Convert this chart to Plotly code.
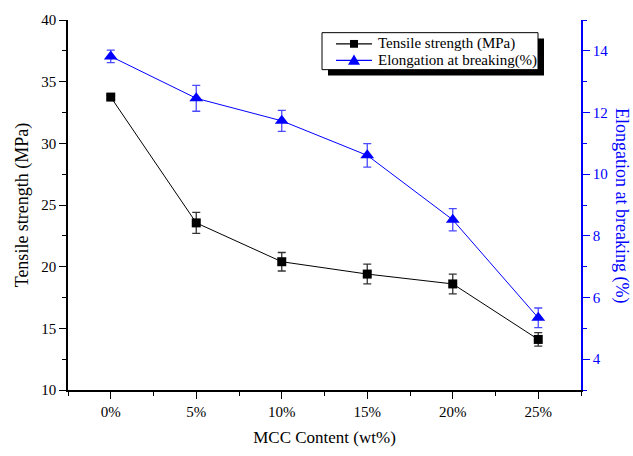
import plotly.graph_objects as go

mcc = [0, 5, 10, 15, 20, 25]
mcc_labels = ["0%", "5%", "10%", "15%", "20%", "25%"]
tensile = [33.75, 23.55, 20.4, 19.4, 18.6, 14.1]
tensile_err = [0.15, 0.85, 0.75, 0.8, 0.8, 0.55]
elong = [13.82, 12.46, 11.73, 10.61, 8.52, 5.34]
elong_err = [0.2, 0.42, 0.34, 0.38, 0.36, 0.32]
series_names = ["Tensile strength (MPa)", "Elongation at breaking(%)"]

FONT = "Liberation Serif"
BLUE = "#0000ff"

fig = go.Figure()
fig.add_trace(go.Scatter(
    x=mcc, y=tensile, name=series_names[0], mode="lines+markers",
    line=dict(color="black", width=1),
    marker=dict(symbol="square", size=9, color="black"),
    error_y=dict(type="data", array=tensile_err, color="#333333", thickness=1.3, width=4),
    yaxis="y", showlegend=False,
))
fig.add_trace(go.Scatter(
    x=mcc, y=elong, name=series_names[1], mode="lines+markers",
    line=dict(color=BLUE, width=1),
    marker=dict(symbol="triangle-up", size=12, color=BLUE),
    error_y=dict(type="data", array=elong_err, color="#4a4aff", thickness=1.3, width=4),
    yaxis="y2", showlegend=False,
))

L, R, T, B = 68, 581, 16, 396
def px(x):
    return (x - L) / (R - L)
def py(y):
    return (B - y) / (B - T)

# --- legend box drawn as decoration (shadow + framed box) ---
bx0, bx1, by0, by1, sh = 322, 538, 29, 67, 6
fig.add_shape(type="rect", xref="paper", yref="paper",
              x0=px(bx0 + sh), x1=px(bx1 + sh), y0=py(by1 + sh), y1=py(by0 + sh),
              fillcolor="black", line=dict(width=0), layer="above")
fig.add_shape(type="rect", xref="paper", yref="paper",
              x0=px(bx0), x1=px(bx1), y0=py(by1), y1=py(by0),
              fillcolor="white", line=dict(color="black", width=1), layer="above")
rows = [40.5, 57.5]
colors = ["black", BLUE]
for i, (yy, c, name) in enumerate(zip(rows, colors, series_names)):
    fig.add_shape(type="line", xref="paper", yref="paper",
                  x0=px(336), x1=px(372), y0=py(yy), y1=py(yy),
                  line=dict(color=c, width=1.2), layer="above")
    if i == 0:
        fig.add_shape(type="rect", xref="paper", yref="paper",
                      x0=px(350), x1=px(358), y0=py(yy + 4), y1=py(yy - 4),
                      fillcolor=c, line=dict(width=0), layer="above")
    else:
        path = "M {} {} L {} {} L {} {} Z".format(px(348), py(yy + 4.5), px(360), py(yy + 4.5),
                                                 px(354), py(yy - 6))
        fig.add_shape(type="path", xref="paper", yref="paper", path=path,
                      fillcolor=c, line=dict(width=0), layer="above")
    fig.add_annotation(text=name, xref="paper", yref="paper", x=px(376), y=py(yy),
                       xanchor="left", yanchor="middle", showarrow=False,
                       font=dict(family=FONT, size=15, color="black"))

fig.add_annotation(text="Elongation at breaking (%)", xref="paper", yref="paper",
                   x=px(622), y=0.5, xanchor="center", yanchor="middle",
                   textangle=90, showarrow=False,
                   font=dict(family=FONT, size=18, color=BLUE))

fig.update_layout(
    width=633, height=456,
    margin=dict(l=L, r=633 - R, t=T, b=456 - B),
    paper_bgcolor="white", plot_bgcolor="white",
    font=dict(family=FONT, size=15, color="black"),
    showlegend=False,
    xaxis=dict(range=[-2.5, 27.5], tickvals=mcc, ticktext=mcc_labels,
               showgrid=False, zeroline=False, showline=True, linecolor="black",
               linewidth=1.5, ticks="outside", ticklen=7, tickcolor="black",
               minor=dict(dtick=2.5, tick0=0, ticks="outside", ticklen=4, tickcolor="black", showgrid=False),
               tickfont=dict(family=FONT, size=15),
               title=dict(text="MCC Content (wt%)", font=dict(family=FONT, size=17), standoff=12)),
    yaxis=dict(range=[10, 40], dtick=5, showgrid=False, zeroline=False,
               showline=True, linecolor="black", linewidth=1.5,
               ticks="outside", ticklen=7, tickcolor="black",
               minor=dict(dtick=2.5, ticks="outside", ticklen=4, tickcolor="black", showgrid=False),
               tickfont=dict(family=FONT, size=15),
               title=dict(text="Tensile strength (MPa)", font=dict(family=FONT, size=18), standoff=8)),
    yaxis2=dict(range=[3, 15], tickvals=[4, 6, 8, 10, 12, 14], overlaying="y", side="right",
                showgrid=False, zeroline=False, showline=True, linecolor=BLUE, linewidth=1.5,
                ticks="outside", ticklen=7, tickcolor=BLUE,
                minor=dict(dtick=1, tick0=3, ticks="outside", ticklen=4, tickcolor=BLUE, showgrid=False),
                tickfont=dict(family=FONT, size=15, color=BLUE)),
)

fig.write_html("out.html")
